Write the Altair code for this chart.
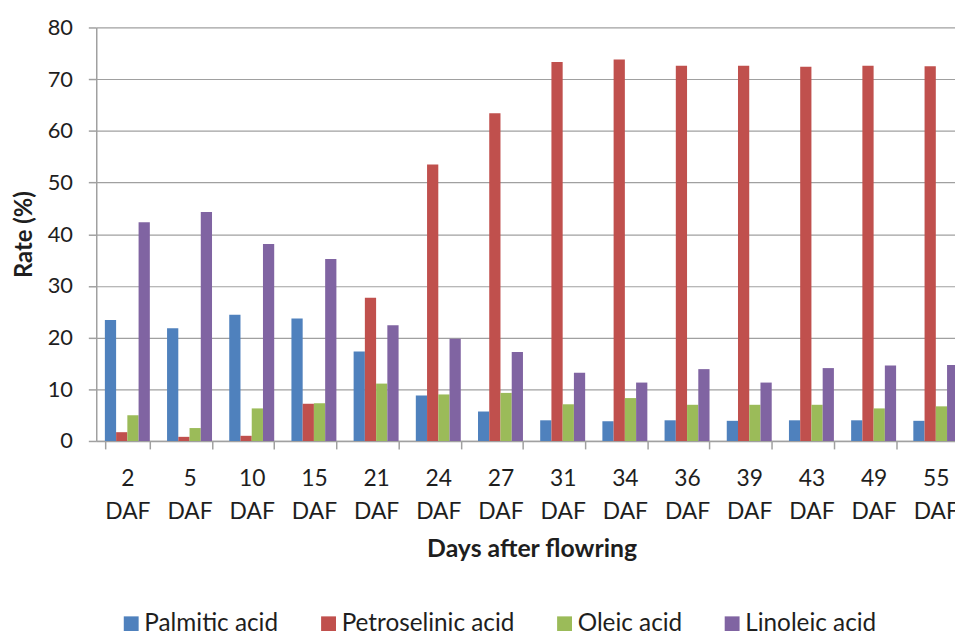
import altair as alt
import pandas as pd

days = ["2 DAF", "5 DAF", "10 DAF", "15 DAF", "21 DAF", "24 DAF", "27 DAF",
        "31 DAF", "34 DAF", "36 DAF", "39 DAF", "43 DAF", "49 DAF", "55 DAF"]
palmitic = [23.4, 21.8, 24.4, 23.7, 17.3, 8.8, 5.7, 4.0, 3.8, 4.0, 3.9, 4.0, 4.0, 3.9]
petroselinic = [1.7, 0.8, 1.0, 7.2, 27.7, 53.5, 63.4, 73.3, 73.8, 72.6, 72.6, 72.4, 72.6, 72.5]
oleic = [5.0, 2.5, 6.3, 7.3, 11.1, 9.0, 9.3, 7.1, 8.3, 7.0, 7.0, 7.0, 6.3, 6.7]
linoleic = [42.3, 44.3, 38.1, 35.2, 22.4, 19.8, 17.2, 13.2, 11.3, 13.9, 11.3, 14.1, 14.6, 14.7]
series_names = ["Palmitic acid", "Petroselinic acid", "Oleic acid", "Linoleic acid"]
colors = ["#4F81BD", "#C0504D", "#9BBB59", "#8064A2"]
y_ticks = [0, 10, 20, 30, 40, 50, 60, 70, 80]

rows = []
for name, vals in zip(series_names, [palmitic, petroselinic, oleic, linoleic]):
    for d, v in zip(days, vals):
        rows.append({"day": d, "series": name, "value": v})
df = pd.DataFrame(rows)

grey = "#A0A0A0"
txt = "#1E1E1E"

chart = alt.Chart(df).mark_bar().encode(
    x=alt.X(
        "day:N", sort=days,
        scale=alt.Scale(range=[0, 878], paddingInner=0.277, paddingOuter=0.1385),
        axis=alt.Axis(
            title="Days after flowring", labelExpr="split(datum.label, ' ')",
            labelAngle=0, tickBand="extent", tickSize=8, grid=False,
            labelFontSize=23, labelLineHeight=33, labelPadding=19,
            titleFontSize=25, titleFontWeight="bold", titlePadding=14,
            labelColor=txt, titleColor=txt,
        ),
    ),
    xOffset=alt.XOffset("series:N", sort=series_names,
                        scale=alt.Scale(paddingInner=0, paddingOuter=0)),
    y=alt.Y(
        "value:Q",
        scale=alt.Scale(domain=[0, 80], nice=False),
        axis=alt.Axis(
            values=y_ticks, title="Rate (%)", tickSize=8, grid=True,
            labelFontSize=22, labelPadding=16, titleFontSize=24,
            titleFontWeight="bold", titlePadding=11,
            labelColor=txt, titleColor=txt,
        ),
    ),
    color=alt.Color(
        "series:N", sort=series_names,
        scale=alt.Scale(domain=series_names, range=colors),
        legend=alt.Legend(
            title=None, orient="none", legendX=23, legendY=589,
            direction="horizontal", columns=4, symbolType="square",
            symbolSize=225, symbolStrokeWidth=0, labelFontSize=24.5,
            labelOffset=1, columnPadding=38, labelColor=txt, labelLimit=0,
        ),
    ),
).properties(
    width=866, height=417,
    autosize=alt.AutoSizeParams(type="none"),
    padding={"left": 89, "top": 17, "right": 0, "bottom": 189},
).configure(
    font="Lato",
).configure_view(
    stroke=None,
).configure_axis(
    domainColor=grey, tickColor=grey, gridColor=grey,
    domainWidth=1.5, tickWidth=1.5, gridWidth=1.2,
)

chart.save("out.html", embed_options={"renderer": "svg", "actions": False})
